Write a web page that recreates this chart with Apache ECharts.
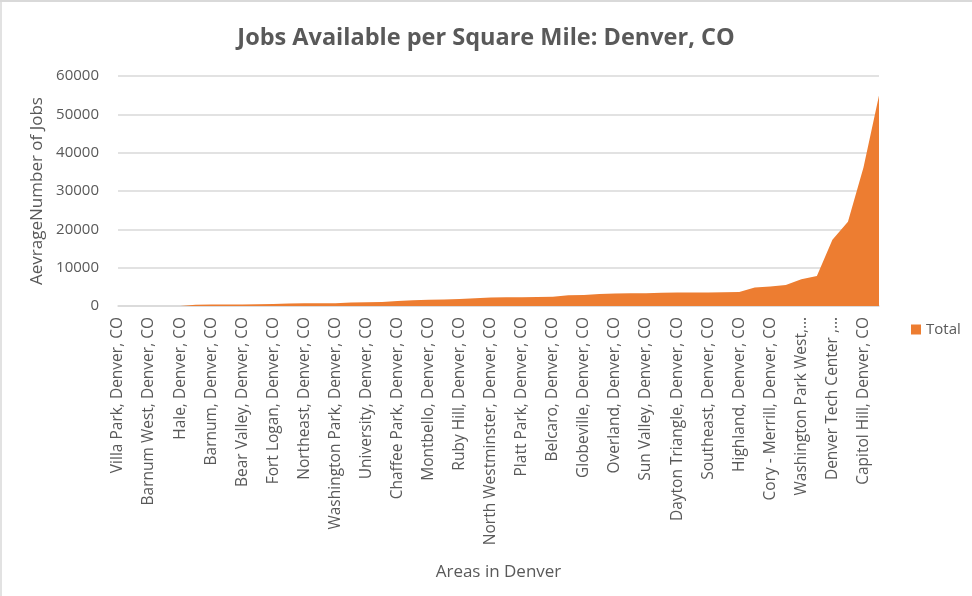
<!DOCTYPE html>
<html>
<head>
<meta charset="utf-8">
<script src="https://cdn.jsdelivr.net/npm/echarts@6/dist/echarts.min.js"></script>
<style>
html,body{margin:0;padding:0;background:#fff;}
#chart{width:972px;height:596px;}
</style>
</head>
<body>
<div id="chart"></div>
<script>
// Visible category labels (every other area is labelled in the reference)
var shownLabels = [
  "Villa Park, Denver, CO", "Barnum West, Denver, CO", "Hale, Denver, CO",
  "Barnum, Denver, CO", "Bear Valley, Denver, CO", "Fort Logan, Denver, CO",
  "Northeast, Denver, CO", "Washington Park, Denver, CO", "University, Denver, CO",
  "Chaffee Park, Denver, CO", "Montbello, Denver, CO", "Ruby Hill, Denver, CO",
  "North Westminster, Denver, CO", "Platt Park, Denver, CO", "Belcaro, Denver, CO",
  "Globeville, Denver, CO", "Overland, Denver, CO", "Sun Valley, Denver, CO",
  "Dayton Triangle, Denver, CO", "Southeast, Denver, CO", "Highland, Denver, CO",
  "Cory - Merrill, Denver, CO", "Washington Park West,\u2026", "Denver Tech Center ,\u2026",
  "Capitol Hill, Denver, CO"
];
// Total jobs per square mile, 50 areas sorted ascending
var totalValues = [
  0, 0, 0, 0, 0, 350, 380, 400, 420, 450,
  500, 650, 700, 720, 750, 900, 950, 1050, 1300, 1500,
  1650, 1700, 1800, 2000, 2250, 2300, 2300, 2350, 2400, 2800,
  2900, 3100, 3250, 3300, 3350, 3450, 3500, 3550, 3550, 3600,
  3650, 4850, 5100, 5450, 7000, 7800, 17300, 22000, 36100, 54900
];
var yTicks = { min: 0, max: 60000, interval: 10000 };

var categories = [];
for (var i = 0; i < totalValues.length; i++) {
  categories.push(i % 2 === 0 ? shownLabels[i / 2] : "");
}

var textColor = "#595959";
var font = "Open Sans";
var chart = echarts.init(document.getElementById("chart"));
chart.setOption({
  animation: false,
  graphic: [
    { type: "line", shape: { x1: 0, y1: 1, x2: 972, y2: 1 }, style: { stroke: "#d9d9d9", lineWidth: 2 }, silent: true },
    { type: "line", shape: { x1: 1, y1: 0, x2: 1, y2: 596 }, style: { stroke: "#d9d9d9", lineWidth: 1.5 }, silent: true }
  ],
  title: {
    text: "Jobs Available per Square Mile: Denver, CO",
    left: "center",
    top: 21,
    textStyle: { fontFamily: font, fontSize: 23.5, fontWeight: "bold", color: textColor }
  },
  legend: {
    data: ["Total"],
    left: 906,
    top: 317,
    icon: "rect",
    itemWidth: 10,
    itemHeight: 10,
    itemGap: 4,
    textStyle: { fontFamily: font, fontSize: 15, color: textColor }
  },
  grid: { left: 118, right: 93, top: 76, bottom: 290, containLabel: false, outerBoundsMode: "none" },
  xAxis: {
    type: "category",
    data: categories,
    boundaryGap: false,
    name: "Areas in Denver",
    nameLocation: "middle",
    nameGap: 258,
    nameTextStyle: { fontFamily: font, fontSize: 17, color: textColor },
    axisLine: { lineStyle: { color: "#d9d9d9", width: 1.5 } },
    axisTick: { show: false },
    axisLabel: {
      interval: 1,
      rotate: 90,
      margin: 11,
      fontFamily: font,
      fontSize: 15.5,
      color: textColor
    }
  },
  yAxis: {
    type: "value",
    min: yTicks.min,
    max: yTicks.max,
    interval: yTicks.interval,
    name: "AevrageNumber of Jobs",
    nameLocation: "middle",
    nameGap: 62,
    nameTextStyle: { fontFamily: font, fontSize: 17, color: textColor },
    axisLine: { show: false },
    axisTick: { show: false },
    axisLabel: {
      margin: 19, fontFamily: font, fontSize: 15, color: textColor,
      formatter: function (v) { return String(v); }
    },
    splitLine: { lineStyle: { color: "#d9d9d9", width: 1.5 } }
  },
  series: [{
    name: "Total",
    type: "line",
    data: totalValues,
    symbol: "none",
    lineStyle: { width: 0 },
    itemStyle: { color: "#ED7D31" },
    areaStyle: { color: "#ED7D31", opacity: 1 }
  }]
});
</script>
</body>
</html>
